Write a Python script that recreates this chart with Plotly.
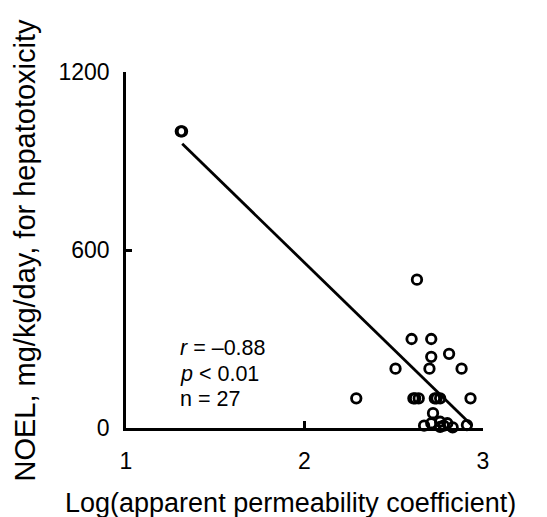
import plotly.graph_objects as go

# Data
log_papp = [1.307, 1.314, 2.63, 2.60, 2.71, 2.71, 2.81, 2.51, 2.70, 2.88,
            2.29, 2.61, 2.64, 2.74, 2.76, 2.93, 2.72, 2.67, 2.71, 2.76,
            2.76, 2.80, 2.83, 2.91, 2.62, 2.78, 2.73]
noel = [1000, 1000, 500, 300, 300, 240, 250, 200, 200, 200,
        100, 100, 100, 100, 100, 100, 50, 8, 16, 21,
        4, 16, 2, 10, 100, 8, 100]
fit_x = [1.315, 2.937]
fit_y = [958, 9]
x_ticks = [1, 2, 3]
y_ticks = [0, 600, 1200]
stats_lines = ["<i>r</i> = \u20130.88", "<i>p</i> < 0.01", "n = 27"]
stats_y = [270, 182, 98]

FONT = "Liberation Sans, Arial, sans-serif"

fig = go.Figure()
fig.add_trace(go.Scatter(x=fit_x, y=fit_y, mode="lines",
                         line=dict(color="black", width=2.8),
                         showlegend=False, hoverinfo="skip"))
fig.add_trace(go.Scatter(x=log_papp, y=noel, mode="markers",
                         marker=dict(symbol="circle-open", size=9.5,
                                     line=dict(color="black", width=2.8),
                                     color="black"),
                         cliponaxis=False, showlegend=False))

annotations = []
for txt, yy in zip(stats_lines, stats_y):
    annotations.append(dict(x=1.291, y=yy, xref="x", yref="y", text=txt,
                            showarrow=False, xanchor="left", yanchor="middle",
                            font=dict(family=FONT, size=21.5, color="black")))
annotations.append(dict(x=0.462, y=-0.2107, xref="paper", yref="paper",
                        text="Log(apparent permeability coefficient)",
                        showarrow=False, xanchor="center", yanchor="middle",
                        font=dict(family=FONT, size=27, color="black")))
annotations.append(dict(x=-0.2843, y=0.5, xref="paper", yref="paper",
                        text="NOEL, mg/kg/day, for hepatotoxicity",
                        textangle=-90,
                        showarrow=False, xanchor="center", yanchor="middle",
                        font=dict(family=FONT, size=29, color="black")))

fig.update_layout(
    width=539, height=509,
    margin=dict(l=118, r=64, t=64, b=89),
    paper_bgcolor="white", plot_bgcolor="white",
    font=dict(family=FONT, color="black"),
    annotations=annotations,
    xaxis=dict(range=[1, 3], tickvals=x_ticks, ticktext=[str(v) for v in x_ticks],
               showline=True, linecolor="black", linewidth=2.5,
               ticks="inside", ticklen=7, tickwidth=2.5, tickcolor="black",
               showgrid=False, zeroline=False, ticklabelstandoff=11,
               tickfont=dict(family=FONT, size=23, color="black")),
    yaxis=dict(range=[0, 1200], tickvals=y_ticks, ticktext=[str(v) for v in y_ticks],
               showline=True, linecolor="black", linewidth=2.5,
               ticks="inside", ticklen=6, tickwidth=2.5, tickcolor="black",
               showgrid=False, zeroline=False, ticklabelstandoff=9,
               tickfont=dict(family=FONT, size=23, color="black")),
)

fig.write_html("out.html")
